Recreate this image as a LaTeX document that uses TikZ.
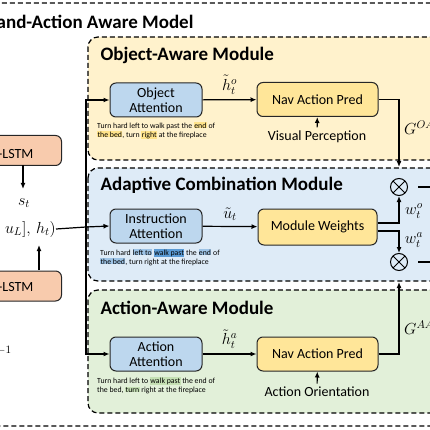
\RequirePackage{fix-cm}
\documentclass[tikz,border=0pt]{standalone}
\usepackage{fontspec}
\setmainfont{Carlito}
\usetikzlibrary{arrows.meta}

\definecolor{objfill}{HTML}{FFF2CC}
\definecolor{adafill}{HTML}{DEEBF7}
\definecolor{actfill}{HTML}{E2F0D9}
\definecolor{attfill}{HTML}{BDD7EE}
\definecolor{navfill}{HTML}{FFE699}
\definecolor{lstmfill}{HTML}{F8CBAD}
\definecolor{hlyellow}{HTML}{FFE38A}
\definecolor{hlblue}{HTML}{9DC3E6}
\definecolor{hldblue}{HTML}{5B9BD5}
\definecolor{hlgreen}{HTML}{C5E0B4}

\newcommand{\hlword}[2]{{\setlength{\fboxsep}{0.4pt}\colorbox{#1}{#2}}}

\begin{document}
\begin{tikzpicture}[x=1pt,y=-1pt,
    module/.style={draw=black,line width=1.2pt,dash pattern=on 5pt off 3pt,rounded corners=10pt},
    title/.style={anchor=west,font=\bfseries\fontsize{19}{22}\selectfont},
    attn/.style={draw=black!85,line width=1pt,fill=attfill,rounded corners=6pt,
      minimum width=92,minimum height=34,align=center,inner sep=1pt,
      font=\fontsize{14}{15}\selectfont},
    nav/.style={draw=black!85,line width=1pt,fill=navfill,rounded corners=6pt,
      minimum width=121,minimum height=34,font=\fontsize{14}{15}\selectfont},
    lstm/.style={draw=black!85,line width=1pt,fill=lstmfill,rounded corners=6pt,
      minimum width=101,minimum height=30},
    plain/.style={font=\fontsize{14}{15}\selectfont},
    lbl/.style={font=\fontsize{16}{18}\selectfont,inner sep=0pt},
    instr/.style={anchor=north west,align=left,inner sep=0pt,
      font=\fontsize{7.8}{9}\selectfont},
    otimes/.style={circle,draw,line width=1pt,minimum size=17,inner sep=0pt,
      path picture={\draw[line width=1pt] (path picture bounding box.north west) -- (path picture bounding box.south east)
        (path picture bounding box.north east) -- (path picture bounding box.south west);}},
    arr/.style={line width=1.2pt,-{Latex[length=6pt,width=5pt]}},
    conn/.style={line width=1.2pt}]
  \useasboundingbox (0,0) rectangle (430,430);
  \clip (0,0) rectangle (430,430);

  % outer model box and the three modules
  \draw[module] (-20,3) rectangle (450,426);
  \node[title,anchor=east] (modeltitle) at (197,22) {and-Action Aware Model};
  \draw[module,fill=objfill] (88,37) rectangle (450,160);
  \draw[module,fill=adafill] (88,168) rectangle (450,281);
  \draw[module,fill=actfill] (88,290) rectangle (450,413);
  \node[title] (objtitle) at (97,55) {Object-Aware Module};
  \node[title] (adatitle) at (97,185) {Adaptive Combination Module};
  \node[title] (acttitle) at (97,308) {Action-Aware Module};

  % left column
  \node[lstm] (declstm) at (11,150.5) {};
  \node[plain,anchor=east] (decname) at (37,154) {r-LSTM};
  \node[lstm] (enclstm) at (11,286) {};
  \node[plain,anchor=east] (encname) at (37,287) {r-LSTM};
  \node[lbl] (state) at (24,203) {$s_t$};
  \node[lbl,anchor=east] (input) at (56,229) {$u_L],\, h_t)$};
  \node[lbl,anchor=east] (prev) at (12,349) {$a_{t-1}$};
  \draw[arr] (23,165) -- (23,189);
  \draw[arr] (39,270) -- (39,245);

  % object-aware module
  \node[attn] (objatt) at (156,100) {Object\\Attention};
  \node[nav] (objnav) at (317.5,99.5) {Nav Action Pred};
  \node[plain] (vis) at (317,137) {Visual Perception};
  \node[instr] (objtext) at (97,122) {Turn hard left to walk past the \hlword{hlyellow}{end} of\\
    \hlword{hlyellow}{the bed}, turn \hlword{hlyellow}{right} at the fireplace};

  % adaptive combination module
  \node[attn] (insatt) at (156,226) {Instruction\\Attention};
  \node[nav,minimum width=119,minimum height=36] (weights) at (317.5,227) {Module Weights};
  \node[instr] (instext) at (100,249) {Turn hard \hlword{hlblue}{left to} \hlword{hldblue}{walk past} the \hlword{hlblue}{end} of\\
    \hlword{hlblue}{the bed}, turn right at the fireplace};
  \node[otimes] (mulo) at (399,187) {};
  \node[otimes] (mula) at (399,262) {};

  % action-aware module
  \node[attn] (actatt) at (156,354) {Action\\Attention};
  \node[nav] (actnav) at (317.5,354) {Nav Action Pred};
  \node[plain] (ori) at (317,392) {Action Orientation};
  \node[instr] (acttext) at (97,377) {Turn hard left to \hlword{hlgreen}{walk past} the end of\\
    the bed, \hlword{hlgreen}{turn} right at the fireplace};

  % connectors
  \coordinate (split) at (86,227);
  \draw[conn] (input.east) -- (split);
  \draw[arr] (split) -- (insatt.west);
  \draw[arr] (split) |- (objatt.west);
  \draw[arr] (split) |- (actatt.west);
  \draw[arr] (objatt) -- node[lbl,above=5pt] (hobj) {$\tilde{h}_t^o$} (objnav);
  \draw[arr] (insatt) -- node[lbl,above=5pt] (uins) {$\tilde{u}_t$} (weights);
  \draw[arr] (actatt) -- node[lbl,above=5pt] (hact) {$\tilde{h}_t^a$} (actnav);
  \draw[arr] (vis) -- (objnav);
  \draw[arr] (ori) -- (actnav);

  \coordinate (goa) at (399,167);
  \coordinate (gaa) at (399,282);
  \draw[arr] (objnav.east) -| (goa);
  \draw[arr] (actnav.east) -| (gaa);
  \node[lbl,anchor=west] (goalbl) at (404,128) {$G^{OA}$};
  \node[lbl,anchor=west] (gaalbl) at (404,328) {$G^{AA}$};
  \draw[arr] ([yshift=4pt]weights.east) -| (mulo.south);
  \draw[arr] ([yshift=-4pt]weights.east) -| (mula.north);
  \node[lbl] (wo) at (414,211) {$w_t^o$};
  \node[lbl] (wa) at (414,240) {$w_t^a$};
  \draw[conn] ([xshift=10pt]mulo.east) -- ++(30,0);
  \draw[conn] ([xshift=10pt]mula.east) -- ++(30,0);
\end{tikzpicture}
\end{document}
